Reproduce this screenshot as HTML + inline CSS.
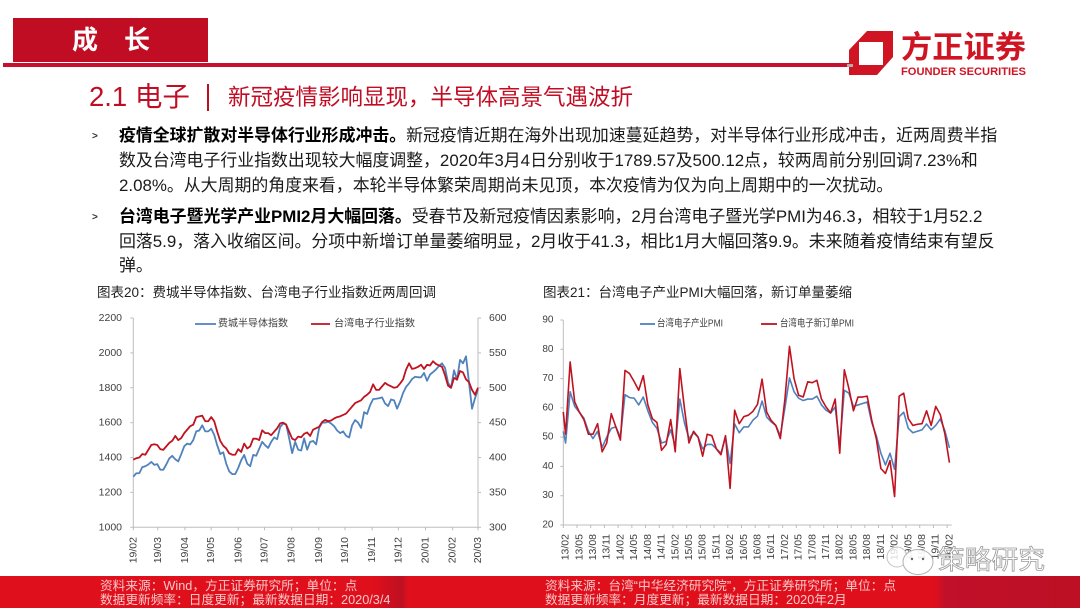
<!DOCTYPE html>
<html lang="zh">
<head>
<meta charset="utf-8">
<title>成长 2.1 电子</title>
<style>
html,body{margin:0;padding:0;background:#fff;}
#page{position:relative;width:1080px;height:608px;overflow:hidden;background:#fff;font-family:"Liberation Sans","Noto Sans CJK SC",sans-serif;color:#111;}
.abs{position:absolute;white-space:nowrap;}
.body-line{font-size:16.9px;line-height:24px;height:24px;left:119px;color:#1a1a1a;}
.body-line b{font-weight:700;color:#000;}
.bullet{font-size:10px;line-height:12px;left:92px;color:#333;font-weight:700;}
.chart-title{font-size:13.5px;line-height:18px;color:#222;}
.foot{font-size:12.7px;line-height:14px;color:#f8c8c8;}
svg{position:absolute;left:0;top:0;}
svg text{font-family:"Liberation Sans","Noto Sans CJK SC",sans-serif;}
</style>
</head>
<body>
<div id="page">
  <div class="abs" style="left:13px;top:18px;width:195px;height:44px;background:#c00d23;"></div>
  <div class="abs" style="left:72px;top:22px;font-size:26px;line-height:36px;font-weight:700;color:#fff;word-spacing:0;"><span>成</span><span style="margin-left:26px;">长</span></div>
  <div class="abs" style="left:3px;top:63px;width:846px;height:4px;background:#c8102e;"></div>

  <div class="abs" style="left:89px;top:78px;font-size:27.5px;line-height:38px;color:#c00d23;">2.1 电子</div>
  <div class="abs" style="left:207px;top:84px;width:2px;height:27px;background:#c00d23;"></div>
  <div class="abs" style="left:228px;top:82px;font-size:22.5px;line-height:32px;color:#c00d23;">新冠疫情影响显现，半导体高景气遇波折</div>

  <div class="abs bullet" style="top:131px;">&gt;</div>
  <div class="abs body-line" style="top:124px;"><b>疫情全球扩散对半导体行业形成冲击。</b>新冠疫情近期在海外出现加速蔓延趋势，对半导体行业形成冲击，近两周费半指</div>
  <div class="abs body-line" style="top:149px;">数及台湾电子行业指数出现较大幅度调整，2020年3月4日分别收于1789.57及500.12点，较两周前分别回调7.23%和</div>
  <div class="abs body-line" style="top:174px;">2.08%。从大周期的角度来看，本轮半导体繁荣周期尚未见顶，本次疫情为仅为向上周期中的一次扰动。</div>
  <div class="abs bullet" style="top:212px;">&gt;</div>
  <div class="abs body-line" style="top:205px;"><b>台湾电子暨光学产业PMI2月大幅回落。</b>受春节及新冠疫情因素影响，2月台湾电子暨光学PMI为46.3，相较于1月52.2</div>
  <div class="abs body-line" style="top:230px;">回落5.9，落入收缩区间。分项中新增订单量萎缩明显，2月收于41.3，相比1月大幅回落9.9。未来随着疫情结束有望反</div>
  <div class="abs body-line" style="top:254px;">弹。</div>

  <div class="abs chart-title" style="left:97px;top:284px;">图表20：费城半导体指数、台湾电子行业指数近两周回调</div>
  <div class="abs chart-title" style="left:543px;top:284px;">图表21：台湾电子产业PMI大幅回落，新订单量萎缩</div>

  <div class="abs" style="left:0;top:576px;width:1080px;height:32px;background:linear-gradient(90deg,#e00f1c 0,#df0f1c 375px,#bd1022 402px,#e00f1c 408px,#e00f1c 935px,#c0102a 945px,#bd1024 1080px);"></div>
  <div class="abs foot" style="left:100px;top:579px;">资料来源：Wind，方正证券研究所；单位：点</div>
  <div class="abs foot" style="left:100px;top:593px;">数据更新频率：日度更新；最新数据日期：2020/3/4</div>
  <div class="abs foot" style="left:545px;top:579px;">资料来源：台湾“中华经济研究院”，方正证券研究所；单位：点</div>
  <div class="abs foot" style="left:545px;top:593px;">数据更新频率：月度更新；最新数据日期：2020年2月</div>

  <svg id="chart" width="1080" height="608" viewBox="0 0 1080 608">
    <g>
      <path fill-rule="evenodd" fill="#cf1424" d="M849 50L867 31H893V57L877 75H849ZM859 42V65H883V42Z"/>
      <rect x="847" y="64" width="6" height="3" fill="#b9a9ac"/>
      <text x="901" y="58" font-size="31" font-weight="700" fill="#cf1424" textLength="125" lengthAdjust="spacingAndGlyphs">方正证券</text>
      <text x="901" y="75" font-size="11" font-weight="700" fill="#cf1424" textLength="125" lengthAdjust="spacingAndGlyphs">FOUNDER SECURITIES</text>
    </g>
    <g id="c1"></g>
    <g id="c2"></g>
    <g>
      <ellipse cx="897" cy="557" rx="10" ry="10" fill="#fff" fill-opacity=".8" stroke="#c4c4c4"/>
      <ellipse cx="918" cy="562" rx="15" ry="12.5" fill="#fff" fill-opacity=".88" stroke="#b0b0b0"/>
      <circle cx="912" cy="559" r="1.2" fill="#666"/>
      <circle cx="923" cy="559" r="1.2" fill="#666"/>
      <text x="938" y="569" font-size="26.5" fill="#fff" stroke="#9a9a9a" stroke-width=".8" textLength="107" lengthAdjust="spacingAndGlyphs">策略研究</text>
    </g>
  </svg>
</div>
<script>
/* ---------- Chart 20 data ---------- */
const c1MonthLabels = ['19/02','19/03','19/04','19/05','19/06','19/07','19/08','19/09','19/10','19/11','19/12','20/01','20/02','20/03'];
const c1LeftTicks = [1000,1200,1400,1600,1800,2000,2200];
const c1RightTicks = [300,350,400,450,500,550,600];
const sox = [1290,1310,1310,1345,1350,1360,1375,1358,1362,1330,1330,1360,1395,1410,1390,1378,1420,1465,1480,1475,1500,1550,1555,1585,1550,1550,1565,1530,1470,1420,1430,1365,1320,1305,1305,1340,1385,1415,1365,1350,1415,1410,1450,1490,1470,1455,1490,1515,1505,1575,1595,1590,1510,1425,1490,1445,1440,1510,1445,1490,1495,1475,1570,1600,1600,1605,1595,1580,1555,1540,1550,1525,1515,1585,1615,1600,1570,1660,1650,1700,1735,1737,1740,1745,1710,1695,1733,1728,1680,1720,1770,1805,1825,1850,1863,1860,1860,1885,1840,1876,1890,1905,1925,1940,1914,1830,1800,1900,1845,1960,1940,1980,1830,1680,1740,1790];
const taiwanIndex = [397,399,400,405,404,411,418,419,418,412,411,416,421,424,431,425,428,435,440,445,447,458,459,460,452,452,458,452,437,424,417,413,406,404,404,412,408,420,413,416,427,427,425,439,435,435,432,437,442,449,450,447,437,427,425,430,429,434,436,431,440,442,444,451,454,452,453,456,458,459,461,463,468,473,478,480,482,487,490,494,505,497,497,502,507,504,502,500,501,506,512,526,535,527,528,530,533,527,533,532,538,534,532,530,518,503,500,514,512,524,522,512,508,497,490,500];

/* ---------- Chart 21 data ---------- */
const c2Months = ['13/01','13/02','13/03','13/04','13/05','13/06','13/07','13/08','13/09','13/10','13/11','13/12','14/01','14/02','14/03','14/04','14/05','14/06','14/07','14/08','14/09','14/10','14/11','14/12','15/01','15/02','15/03','15/04','15/05','15/06','15/07','15/08','15/09','15/10','15/11','15/12','16/01','16/02','16/03','16/04','16/05','16/06','16/07','16/08','16/09','16/10','16/11','16/12','17/01','17/02','17/03','17/04','17/05','17/06','17/07','17/08','17/09','17/10','17/11','17/12','18/01','18/02','18/03','18/04','18/05','18/06','18/07','18/08','18/09','18/10','18/11','18/12','19/01','19/02','19/03','19/04','19/05','19/06','19/07','19/08','19/09','19/10','19/11','19/12','20/01','20/02'];
const c2Ticks = [20,30,40,50,60,70,80,90];
const pmi = [52,48,65.5,60.5,58.5,56.5,52,49.5,52,46.5,50,53,53.5,50,64.5,63.5,63.3,61,63.7,59,55,53,48,48.5,52.5,47,63,55,49.5,51.5,50,46,47.5,47.5,46,44.5,50,41,54.5,51.5,53.5,53.5,55.8,57.2,62.3,56.9,55.2,54,50.5,60,70.2,65.5,63.3,62.5,63,63,64,61,59.2,58.2,60.3,47,66,65,60.5,61,61.5,62,55,50.5,44.5,40.5,44.5,39,57,58.5,53,51.5,52,52.5,54.5,52.5,54,56.2,52.2,46.3];
const newOrders = [58.6,51,75.7,62,58.6,56,51,51,54.6,45,48,58,53.5,49,72.8,71.7,69,66,71,61,56.3,55,45.5,47.5,56,45,73.4,60,48,52,50,43.5,51,50.5,46,44,50.5,32.5,59.2,54.6,57,57.5,58.8,61.2,69.8,58.6,55.7,54,49.5,63,81,70,64.3,63.7,68.9,68.6,69.4,63,60.3,58.3,63,44.5,73,66.6,59,63.7,63.7,64,55.8,49.5,39.3,37.6,42,29.7,64,65,56.3,54,54.4,54.6,59,54,60.5,57.7,51.2,41.3];

const SVGNS = 'http://www.w3.org/2000/svg';
const AXIS = '#bdbdbd', TXT = '#404040', BLUE = '#4f81bd', RED = '#c0121f';

function mk(parent, tag, attrs, text) {
  const el = document.createElementNS(SVGNS, tag);
  for (const k in attrs) el.setAttribute(k, attrs[k]);
  if (text !== undefined) el.textContent = text;
  parent.appendChild(el);
  return el;
}
function linear(d0, d1, r0, r1) {
  return function (v) { return r0 + (v - d0) / (d1 - d0) * (r1 - r0); };
}
function pathOf(values, xf, yf) {
  return values.map(function (v, i) { return (i ? 'L' : 'M') + xf(i).toFixed(2) + ' ' + yf(v).toFixed(2); }).join('');
}
function rotatedLabel(parent, x, y, text, name) {
  const t = mk(parent, 'text', {x: x, y: y, 'font-size': 10.5, fill: TXT, 'text-anchor': 'end', 'dominant-baseline': 'central', transform: 'rotate(-90 ' + x + ' ' + y + ')'}, text);
  
  
}
function axisLine(parent, x1, y1, x2, y2, name) {
  const l = mk(parent, 'line', {x1: x1, y1: y1, x2: x2, y2: y2, stroke: AXIS, 'stroke-width': 1});
  
  
}
function yLabel(parent, x, y, text, anchor, size, name) {
  const t = mk(parent, 'text', {x: x, y: y, 'font-size': size, fill: TXT, 'text-anchor': anchor, 'dominant-baseline': 'central'}, text);
  
  
}
function series(parent, d, color, width, name) {
  const p = mk(parent, 'path', {d: d, fill: 'none', stroke: color, 'stroke-width': width, 'stroke-linejoin': 'round'});
  
  
}
function legend(parent, x1, x2, y, tx, color, label, size, len, nameKey) {
  const l = mk(parent, 'line', {x1: x1, y1: y, x2: x2, y2: y, stroke: color, 'stroke-width': 1.8});
  
  
  const t = mk(parent, 'text', {x: tx, y: y, 'font-size': size, fill: TXT, 'dominant-baseline': 'central', textLength: len, lengthAdjust: 'spacingAndGlyphs'}, label);
  
  
}

/* ---------- Chart 20 ---------- */
(function () {
  const g = document.getElementById('c1');
  const L = 133.3, R = 478, T = 318, B = 527.3;
  const yLeft = linear(1000, 2200, B, T);
  const yRight = linear(300, 600, B, T);
  const dayOf = function (label) {
    const parts = label.split('/');
    return Date.UTC(2000 + Number(parts[0]), Number(parts[1]) - 1, 1) / 86400000;
  };
  const d0 = dayOf(c1MonthLabels[0]);
  const d1 = dayOf(c1MonthLabels[c1MonthLabels.length - 1]);
  const xDay = linear(d0, d1, L, R);
  const xIdx = linear(0, sox.length - 1, L, R);

  axisLine(g, L, T, L, B, 'left-axis');
  axisLine(g, R, T, R, B, 'right-axis');
  axisLine(g, L, B, R, B, 'x-axis');
  c1LeftTicks.forEach(function (v) {
    axisLine(g, L - 3, yLeft(v), L, yLeft(v), 'left-tick');
    yLabel(g, 122, yLeft(v), String(v), 'end', 10.5, 'left-tick-label');
  });
  c1RightTicks.forEach(function (v) {
    axisLine(g, R, yRight(v), R + 3, yRight(v), 'right-tick');
    yLabel(g, 489, yRight(v), String(v), 'start', 10.5, 'right-tick-label');
  });
  c1MonthLabels.forEach(function (m) {
    const x = xDay(dayOf(m));
    axisLine(g, x, B, x, B + 3, 'x-tick');
    rotatedLabel(g, x, 537, m, 'x-tick-label');
  });
  series(g, pathOf(sox, xIdx, yLeft), BLUE, 1.8, 'sox-line');
  series(g, pathOf(taiwanIndex, xIdx, yRight), RED, 1.8, 'taiwan-index-line');
  legend(g, 195, 216, 324, 218, BLUE, '费城半导体指数', 10, 70, 'legend-sox');
  legend(g, 311, 330, 324, 334, RED, '台湾电子行业指数', 10, 81, 'legend-taiwan-index');
})();

/* ---------- Chart 21 ---------- */
(function () {
  const g = document.getElementById('c2');
  const L = 563.3, R = 951.7, T = 320, B = 525;
  const y = linear(20, 90, B, T);
  const step = (R - L) / (c2Months.length - 1);
  const x = function (i) { return Math.max(L, L + step * (i - 0.5)); };

  axisLine(g, L, T, L, B, 'y-axis');
  axisLine(g, L, B, R, B, 'x-axis');
  c2Ticks.forEach(function (v) {
    axisLine(g, L - 3, y(v), L, y(v), 'y-tick');
    yLabel(g, 553.5, y(v), String(v), 'end', 10, 'y-tick-label');
  });
  c2Months.forEach(function (m, i) {
    if (i === 0 || (i - 1) % 3 !== 0) return;
    axisLine(g, L + step * (i - 1), B, L + step * (i - 1), B + 3, 'x-tick');
    rotatedLabel(g, x(i), 534, m, 'x-tick-label');
  });
  series(g, pathOf(pmi, x, y), BLUE, 1.6, 'pmi-line');
  series(g, pathOf(newOrders, x, y), RED, 1.6, 'new-orders-line');
  legend(g, 640, 655, 324, 657, BLUE, '台湾电子产业PMI', 10, 66, 'legend-pmi');
  legend(g, 761, 777, 324, 780, RED, '台湾电子新订单PMI', 10, 74, 'legend-new-orders');
})();
</script>
</body>
</html>
